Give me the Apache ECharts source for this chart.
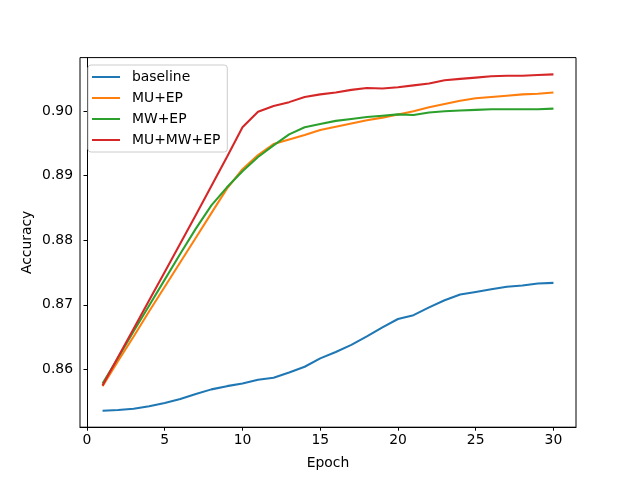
<!DOCTYPE html>
<html>
<head>
<meta charset="utf-8">
<script src="https://cdn.jsdelivr.net/npm/echarts@6/dist/echarts.min.js"></script>
<style>html,body{margin:0;padding:0;background:#fff}#c{width:640px;height:480px}</style>
</head>
<body>
<div id="c"></div>
<script>
const epochs = [1,2,3,4,5,6,7,8,9,10,11,12,13,14,15,16,17,18,19,20,21,22,23,24,25,26,27,28,29,30];
const baseline = [0.8536,0.8537,0.8539,0.8543,0.8548,0.8554,0.8562,0.8569,0.8574,0.8578,0.8584,0.8587,0.8595,0.8604,0.8617,0.8627,0.8638,0.8651,0.8665,0.8678,0.8684,0.8696,0.8707,0.8716,0.8720,0.8724,0.8728,0.8730,0.8733,0.8734];
const muEp = [0.8574,0.8613,0.8651,0.8690,0.8728,0.8766,0.8804,0.8842,0.8880,0.8910,0.8932,0.8949,0.8956,0.8963,0.8971,0.8976,0.8981,0.8986,0.8990,0.8995,0.9000,0.9006,0.9011,0.9016,0.9020,0.9022,0.9024,0.9026,0.9027,0.9029];
const mwEp = [0.8578,0.8618,0.8659,0.8699,0.8739,0.8779,0.8818,0.8854,0.8882,0.8907,0.8929,0.8947,0.8964,0.8975,0.8980,0.8985,0.8988,0.8991,0.8993,0.8995,0.8994,0.8998,0.9000,0.9001,0.9002,0.9003,0.9003,0.9003,0.9003,0.9004];
const muMwEp = [0.8575,0.8619,0.8663,0.8707,0.8751,0.8795,0.8839,0.8884,0.8929,0.8975,0.8999,0.9008,0.9014,0.9022,0.9026,0.9029,0.9033,0.9036,0.9035,0.9037,0.9040,0.9043,0.9048,0.9050,0.9052,0.9054,0.9055,0.9055,0.9056,0.9057];
const seriesNames = ['baseline','MU+EP','MW+EP','MU+MW+EP'];
const xTicks = [0,5,10,15,20,25,30];
const yTicks = [0.86,0.87,0.88,0.89,0.90];

const colors = ['#1f77b4','#ff7f0e','#2ca02c','#d62728'];
const all = [baseline, muEp, mwEp, muMwEp];
const font = 'DejaVu Sans';
const chart = echarts.init(document.getElementById('c'), null, {renderer:'canvas'});
chart.setOption({
  animation:false,
  color: colors,
  textStyle:{fontFamily:font},
  grid:{left:80, right:64, top:57.6, bottom:52.8, show:true, borderColor:'#000', borderWidth:1, backgroundColor:'transparent'},
  legend:{
    orient:'vertical', left:88, top:65,
    data: seriesNames.map(n=>({name:n, icon:'rect'})),
    itemWidth:28, itemHeight:2, itemGap:7,
    padding:[5,7,5,4],
    borderColor:'#cccccc', borderWidth:1, borderRadius:3,
    backgroundColor:'rgba(255,255,255,0.8)',
    textStyle:{fontFamily:font, fontSize:13.9, color:'#000', padding:[0,0,0,7]}
  },
  xAxis:{
    type:'value', min:-0.45, max:31.45,
    name:'Epoch', nameLocation:'middle', nameGap:29, nameMoveOverlap:false,
    nameTextStyle:{fontFamily:font, fontSize:13.9, color:'#000'},
    axisLine:{show:true, lineStyle:{color:'#000', width:1}},
    axisTick:{show:true, length:3.5, lineStyle:{color:'#000'}, customValues:xTicks},
    axisLabel:{fontFamily:font, fontSize:13.9, color:'#000', margin:6, customValues:xTicks, formatter:v=>String(v)},
    splitLine:{show:false}
  },
  yAxis:{
    type:'value', min:0.85104, max:0.90830,
    name:'Accuracy', nameLocation:'middle', nameGap:46, nameRotate:90, nameMoveOverlap:false,
    nameTextStyle:{fontFamily:font, fontSize:13.9, color:'#000'},
    axisLine:{show:true, lineStyle:{color:'#000', width:1}},
    axisTick:{show:true, length:3.5, lineStyle:{color:'#000'}, customValues:yTicks},
    axisLabel:{fontFamily:font, fontSize:13.9, color:'#000', margin:7, customValues:yTicks, formatter:v=>v.toFixed(2)},
    splitLine:{show:false}
  },
  series: all.map((arr,i)=>({
    name:seriesNames[i], type:'line', showSymbol:false, symbol:'none',
    data: epochs.map((e,j)=>[e, arr[j]]),
    lineStyle:{width:2.08, color:colors[i]},
    itemStyle:{color:colors[i]},
    z: 2+i
  }))
});
</script>
</body>
</html>
